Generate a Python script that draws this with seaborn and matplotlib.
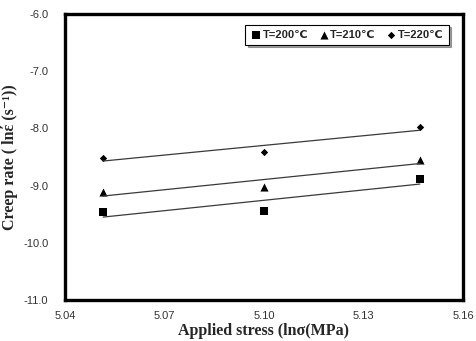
import numpy as np
import pandas as pd
import matplotlib
matplotlib.use('Agg')
import matplotlib.pyplot as plt
import seaborn as sns

# данные
stress = [5.0515, 5.100, 5.147]
rate_200 = [-9.46, -9.44, -8.88]
rate_210 = [-9.12, -9.02, -8.55]
rate_220 = [-8.51, -8.42, -7.97]
labels = ['T=200\u2103', 'T=210\u2103', 'T=220\u2103']
markers = ['s', '^', 'D']
sizes = [30, 34, 14]

sns.set_style("white")
plt.rcParams['font.family'] = ['Liberation Sans', 'DejaVu Sans']

fig = plt.figure(figsize=(4.76, 3.41), dpi=100)
ax = fig.add_axes([0.1366, 0.1202, 0.836, 0.8388])

for rates, lab, mk, sz in zip([rate_200, rate_210, rate_220], labels, markers, sizes):
    df = pd.DataFrame({'x': stress, 'y': rates})
    sns.regplot(data=df, x='x', y='y', ax=ax, ci=None, marker=mk, label=lab,
                scatter_kws={'s': sz, 'color': 'black', 'alpha': 1, 'linewidths': 0},
                line_kws={'color': '#3a3a3a', 'linewidth': 0.9})

ax.set_xlim(5.04, 5.16)
ax.set_ylim(-11, -6)
ax.set_xticks([5.04, 5.07, 5.10, 5.13, 5.16])
ax.set_xticklabels(['5.04', '5.07', '5.10', '5.13', '5.16'])
ax.set_yticks([-11, -10, -9, -8, -7, -6])
ax.set_yticklabels(['-11.0', '-10.0', '-9.0', '-8.0', '-7.0', '-6.0'])
ax.tick_params(axis='both', direction='in', length=3, width=0.6, color='#888888',
               labelsize=8, labelcolor='#333333')
ax.tick_params(axis='y', pad=12)
ax.tick_params(axis='x', pad=8)

for s in ax.spines.values():
    s.set_color('black')
    s.set_linewidth(2.4)

serif = ['Liberation Serif', 'DejaVu Serif']
ax.set_xlabel('Applied stress (ln\u03c3(MPa)', fontsize=11.5, fontweight='bold',
              family=serif, labelpad=1)
ax.set_ylabel('Creep rate ( ln\u03ad (s\u207b\u00b9))', fontsize=11.5, fontweight='bold',
              family=serif, labelpad=4)

leg = ax.legend(loc='upper right', bbox_to_anchor=(0.978, 0.982), ncol=3,
                prop={'size': 8, 'weight': 'bold'}, frameon=True, fancybox=False,
                shadow=True, edgecolor='black', handletextpad=0.1,
                columnspacing=0.9, handlelength=1.0, borderpad=0.45)
leg.get_frame().set_linewidth(0.8)

fig.savefig('out.png', dpi=100)
